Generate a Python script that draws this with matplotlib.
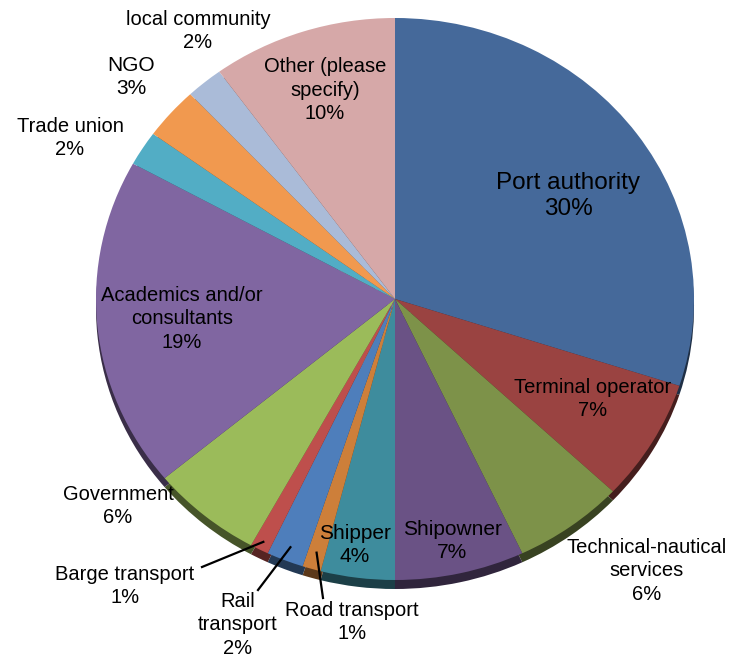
import numpy as np
import matplotlib
matplotlib.use("Agg")
import matplotlib.pyplot as plt
from matplotlib.colors import to_rgb

plt.rcParams['font.family'] = ['Liberation Sans', 'DejaVu Sans']

# stakeholder groups, clockwise from 12 o'clock
groups = ["Port authority", "Terminal operator", "Technical-nautical services",
          "Shipowner", "Shipper", "Road transport", "Rail transport",
          "Barge transport", "Government", "Academics and/or consultants",
          "Trade union", "NGO", "local community", "Other (please specify)"]
shares = [30, 7, 6, 7, 4, 1, 2, 1, 6, 19, 2, 3, 2, 10]
label_text = ["Port authority", "Terminal operator", "Technical-nautical\nservices",
              "Shipowner", "Shipper", "Road transport", "Rail\ntransport",
              "Barge transport", "Government", "Academics and/or\nconsultants",
              "Trade union", "NGO", "local community", "Other (please\nspecify)"]
colors = ["#45699a", "#9a4341", "#7d9249", "#6a5285", "#3e8c9d", "#cd7f3a",
          "#4e7ebb", "#be4f4c", "#9bbb5a", "#8066a1", "#52adc5", "#f1994f",
          "#aabbd8", "#d6a8a8"]

W, H = 729, 657
fig = plt.figure(figsize=(W / 100, H / 100), dpi=100)

# pie ellipse in pixels
cx, cy, rx, ry = 395, 299, 299, 281
rim = 9

def ax_rect(x0, y0, w, h):
    return [x0 / W, (H - y0 - h) / H, w / W, h / H]

# darker rim underneath gives the tilted-disc look
ax_rim = fig.add_axes(ax_rect(cx - rx, cy - ry + rim, 2 * rx, 2 * ry))
dark = [tuple(c * 0.45 for c in to_rgb(col)) for col in colors]
ax_rim.pie(shares, colors=dark, startangle=90, counterclock=False,
           wedgeprops=dict(linewidth=0))
ax_rim.set_aspect('auto')
ax_rim.set_xlim(-1, 1)
ax_rim.set_ylim(-1, 1)
ax_rim.axis('off')

ax = fig.add_axes(ax_rect(cx - rx, cy - ry, 2 * rx, 2 * ry))
ax.pie(shares, colors=colors, startangle=90, counterclock=False,
       wedgeprops=dict(linewidth=0))
ax.set_aspect('auto')
ax.set_xlim(-1, 1)
ax.set_ylim(-1, 1)
ax.axis('off')

# overlay in pixel coordinates for the labels
ov = fig.add_axes([0, 0, 1, 1])
ov.set_xlim(0, W)
ov.set_ylim(H, 0)
ov.axis('off')

# label centres (pixels) and font sizes
label_pos = [(568, 196), (593, 399), (647, 571), (452, 541), (355, 545),
             (352, 622), (238, 625), (125, 586), (118, 506), (182, 319),
             (70, 138), (131, 77), (198, 31), (325, 90)]
label_size = [17.5, 14.5, 14.5, 15, 15, 14.5, 14.5, 14.5, 14.5, 14.5,
              14.5, 15, 14.5, 14.5]

for name, txt, v, (x, y), fs in zip(groups, label_text, shares, label_pos, label_size):
    ov.text(x, y, f"{txt}\n{v}%", ha='center', va='center', fontsize=fs,
            linespacing=1.28, color='black')

# leader lines for the thin slices
bounds = 90 - 3.6 * np.concatenate([[0], np.cumsum(shares)])
leaders = {"Road transport": (0.94, (323, 598)),
           "Rail transport": (0.95, (258, 590)),
           "Barge transport": (0.97, (202, 567))}
for name, (rf, end) in leaders.items():
    i = groups.index(name)
    mid = np.radians((bounds[i] + bounds[i + 1]) / 2)
    sx = cx + rx * rf * np.cos(mid)
    sy = cy - ry * rf * np.sin(mid)
    ov.plot([sx, end[0]], [sy, end[1]], color='black', lw=1.6)

fig.savefig("out.png", dpi=100)
